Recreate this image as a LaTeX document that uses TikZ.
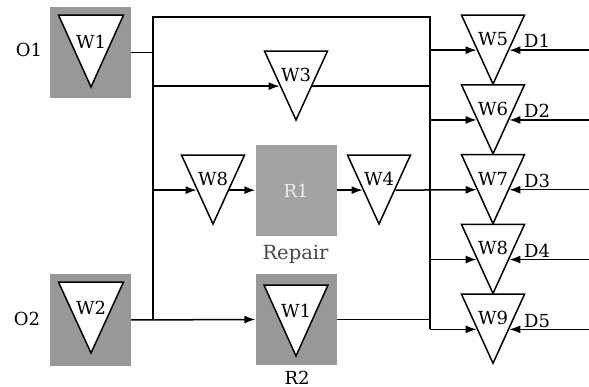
\documentclass[tikz,border=0pt]{standalone}
\usepackage{fontspec}
\setmainfont{DejaVu Serif}
\usetikzlibrary{arrows.meta,shapes.geometric}
\definecolor{boxgray}{RGB}{152,152,152}
\definecolor{textgray}{RGB}{70,70,70}

\begin{document}
\begin{tikzpicture}[x=1pt,y=-1pt,
	every node/.style={font=\fontsize{18}{21}\selectfont, inner sep=0pt},
	valve/.style={draw, fill=white, line width=1.5pt, isosceles triangle, isosceles triangle stretches, shape border rotate=270, minimum width=63pt, minimum height=69pt, anchor=apex},
	store/.style={fill=boxgray, minimum width=81pt, minimum height=91pt},
	flow/.style={line width=1.5pt, -{Latex[length=11pt,width=8pt]}},
	wire/.style={line width=1.5pt}]
	\useasboundingbox (0,0) rectangle (589,387);
	% sources and repair
	\node[store] (o1) at (90.5,52.5) {};
	\node[valve, minimum width=65pt, minimum height=72pt] (w1) at (91,89) {};
	\node[store] (o2) at (90.5,320) {};
	\node[valve, minimum width=65pt, minimum height=71pt] (w2) at (91,355) {};
	\node[store, fill=boxgray!90] (r1) at (296,191) {\color{white!92!black}R1};
	\node[store] (r2) at (296,319.5) {};
	\node[valve, minimum width=64pt, minimum height=71pt] (w1r) at (296,358) {};
	\node (o1l) at (29,50) {O1};
	\node (o2l) at (27,319) {O2};
	\node[anchor=base, textgray, font=\fontsize{19.5}{22}\selectfont] (rl) at (295.5,260) {Repair};
	\node[anchor=base] (r2l) at (297,384) {R2};
	% valves
	\node[valve] (w3) at (296,122) {};
	\node[valve] (wr) at (213,226) {};
	\node[valve] (w4) at (379,226) {};
	\foreach \i [evaluate=\i as \y using 17+69.8*(\i-5)+69] in {5,...,9}
		\node[valve] (w\i) at (493,\y) {};
	\foreach \i [evaluate=\i as \y using 17+69.8*(\i-5)+31, evaluate=\i as \d using int(\i-4)] in {5,...,9}
		\node[anchor=base west] (d\d) at (524,\y) {D\d};
	% valve names
	\foreach \v/\t in {w1/W1, w2/W2, w1r/W1, w3/W3, wr/W8, w4/W4, w5/W5, w6/W6, w7/W7, w8/W8, w9/W9}
		\node (\v l) at ([yshift=47pt]\v.apex) {\t};
	\coordinate (lbus) at (153,17);
	\coordinate (rbus) at (430,17);
	\coordinate (rim) at (589,0);
	% connectors
	\draw[wire] (o1.east) -- (o1.east -| lbus);
	\draw[wire] (lbus |- o2.east) -- (lbus) -- (rbus) -- (rbus |- w9.right side);
	\draw[flow] (o2.east) -- (r2.west);
	\draw[flow] (lbus |- w3.right side) -- (w3.right side);
	\draw[wire] (w3.left side) -- (w3.left side -| rbus);
	\draw[flow] (lbus |- wr.right side) -- (wr.right side);
	\draw[flow] (wr.left side) -- (wr.left side -| r1.west);
	\draw[flow] (w4.right side -| r1.east) -- (w4.right side);
	\draw[flow] (w4.left side) -- (w7.right side);
	\draw[wire] (r2.east) -- (r2.east -| rbus);
	\foreach \i in {5,6,8,9}
		\draw[flow] (rbus |- w\i.right side) -- (w\i.right side);
	\foreach \i in {5,...,9}
		\draw[flow] (rim |- w\i.left side) -- (w\i.left side);
\end{tikzpicture}
\end{document}
